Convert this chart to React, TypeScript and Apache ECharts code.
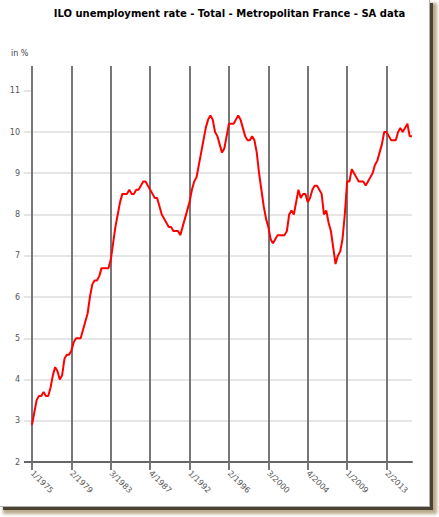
import React, { useEffect, useRef } from 'react';
import * as echarts from 'echarts';

const chartTitle = 'ILO unemployment rate - Total - Metropolitan France - SA data';
const unitLabel = 'in %';
const startYear = 1975;
const quarterCount = 165;

// quarterly categories "Q/YYYY" from 1/1975 to 1/2016
const categories: string[] = [];
for (let i = 0; i < quarterCount; i++) {
  categories.push(`${(i % 4) + 1}/${startYear + Math.floor(i / 4)}`);
}

// ILO unemployment rate, %
const rates = [
  2.9, 3.2, 3.5, 3.6, 3.6, 3.7, 3.6, 3.6, 3.8, 4.1,
  4.3, 4.2, 4.0, 4.1, 4.5, 4.6, 4.6, 4.7, 4.9, 5.0,
  5.0, 5.0, 5.2, 5.4, 5.6, 6.0, 6.3, 6.4, 6.4, 6.5,
  6.7, 6.7, 6.7, 6.7, 6.9, 7.3, 7.7, 8.0, 8.3, 8.5,
  8.5, 8.5, 8.6, 8.5, 8.5, 8.6, 8.6, 8.7, 8.8, 8.8,
  8.7, 8.6, 8.5, 8.4, 8.4, 8.2, 8.0, 7.9, 7.8, 7.7,
  7.7, 7.6, 7.6, 7.6, 7.5, 7.7, 7.9, 8.1, 8.3, 8.6,
  8.8, 8.9, 9.2, 9.5, 9.8, 10.1, 10.3, 10.4, 10.3, 10.0,
  9.9, 9.7, 9.5, 9.6, 9.9, 10.2, 10.2, 10.2, 10.3, 10.4,
  10.3, 10.1, 9.9, 9.8, 9.8, 9.9, 9.8, 9.5, 9.0, 8.6,
  8.2, 7.9, 7.7, 7.4, 7.3, 7.4, 7.5, 7.5, 7.5, 7.5,
  7.6, 8.0, 8.1, 8.0, 8.3, 8.6, 8.4, 8.5, 8.5, 8.3,
  8.4, 8.6, 8.7, 8.7, 8.6, 8.5, 8.0, 8.1, 7.8, 7.6,
  7.2, 6.8, 7.0, 7.1, 7.4, 8.0, 8.8, 8.8, 9.1, 9.0,
  8.9, 8.8, 8.8, 8.8, 8.7, 8.8, 8.9, 9.0, 9.2, 9.3,
  9.5, 9.7, 10.0, 10.0, 9.9, 9.8, 9.8, 9.8, 10.0, 10.1,
  10.0, 10.1, 10.2, 9.9, 9.9,
];

const yTicks = [2, 3, 4, 5, 6, 7, 8, 9, 10, 11];
const yMin = 2;
const yMax = 11.6;

const FONT = 'DejaVu Sans, Verdana, sans-serif';

export default function App() {
  const ref = useRef<HTMLDivElement>(null);

  useEffect(() => {
    document.body.style.margin = '0';
    if (!ref.current) return;
    const chart = echarts.init(ref.current, undefined, { renderer: 'svg' });
    const gridColors = yTicks.map(() => '#dedede');
    gridColors.push('transparent');
    const textGraphics = [
      {
        type: 'text',
        id: 'title',
        x: 229.5,
        y: 13,
        style: {
          text: chartTitle,
          textAlign: 'center',
          textVerticalAlign: 'middle',
          fontFamily: FONT,
          fontWeight: 'bold',
          fontSize: 10,
          fill: '#000',
        },
      },
      {
        type: 'text',
        id: 'unit',
        x: 11,
        y: 53,
        style: {
          text: unitLabel,
          textVerticalAlign: 'middle',
          fontFamily: FONT,
          fontSize: 8,
          fill: '#444',
        },
      },
    ];
    chart.setOption({
      animation: false,
      backgroundColor: 'transparent',
      grid: { left: 32, right: 27, top: 66, bottom: 55, containLabel: false, outerBoundsMode: 'none' },
      graphic: textGraphics,
      xAxis: {
        type: 'category',
        data: categories,
        boundaryGap: false,
        z: 1,
        axisLine: { show: true, lineStyle: { color: '#666', width: 2 } },
        axisTick: { show: true, interval: 16, length: 8, lineStyle: { color: '#777', width: 2 } },
        axisLabel: { interval: 16, rotate: -45, margin: 10, fontSize: 8, color: '#555', fontFamily: FONT },
        splitLine: { show: true, interval: 16, lineStyle: { color: '#777', width: 2 } },
      },
      yAxis: {
        type: 'value',
        min: yMin,
        max: yMax,
        interval: 1,
        z: 0,
        axisLine: { show: false },
        axisTick: { show: true, length: 8, customValues: yTicks, lineStyle: { color: '#dedede', width: 1.5 } },
        axisLabel: {
          margin: 12,
          fontSize: 8,
          color: '#555',
          fontFamily: FONT,
          customValues: yTicks,
          formatter: (v: number) => (Number.isInteger(v) ? String(v) : ''),
        },
        splitLine: { show: true, showMaxLine: false, lineStyle: { color: gridColors, width: 1.5 } },
      },
      series: [
        {
          type: 'line',
          data: rates,
          symbol: 'none',
          z: 3,
          lineStyle: { color: '#ff0000', width: 2 },
          itemStyle: { color: '#ff0000' },
        },
      ],
    });
    // extend the x-axis line to the left, like the gridline ticks
    const p0 = chart.convertToPixel({ gridIndex: 0 }, [0, yMin]) as number[];
    if (p0 && isFinite(p0[0])) {
      chart.setOption({
        graphic: [
          ...textGraphics,
          {
            type: 'line',
            id: 'axisExt',
            z: 5,
            shape: { x1: p0[0] - 8, y1: p0[1], x2: p0[0], y2: p0[1] },
            style: { stroke: '#666', lineWidth: 2 },
          },
        ],
      });
    }
    return () => chart.dispose();
  }, []);

  return (
    <div style={{ position: 'fixed', left: 0, top: 0, width: 439, height: 517, background: '#fff', overflow: 'hidden' }}>
      <div
        style={{
          position: 'absolute',
          left: 3,
          top: 3,
          width: 430,
          height: 507,
          background: '#4a4232',
          boxShadow: '2px 2px 3px 2px #b9aa8c',
        }}
      />
      <div
        style={{
          position: 'absolute',
          left: 0,
          top: 0,
          width: 430,
          height: 507,
          background: '#fff',
          borderRight: '1px solid #b0b0b0',
          borderBottom: '1px solid #b0b0b0',
          boxSizing: 'border-box',
        }}
      />
      <div ref={ref} style={{ position: 'absolute', left: 0, top: 0, width: 439, height: 517 }} />
    </div>
  );
}
